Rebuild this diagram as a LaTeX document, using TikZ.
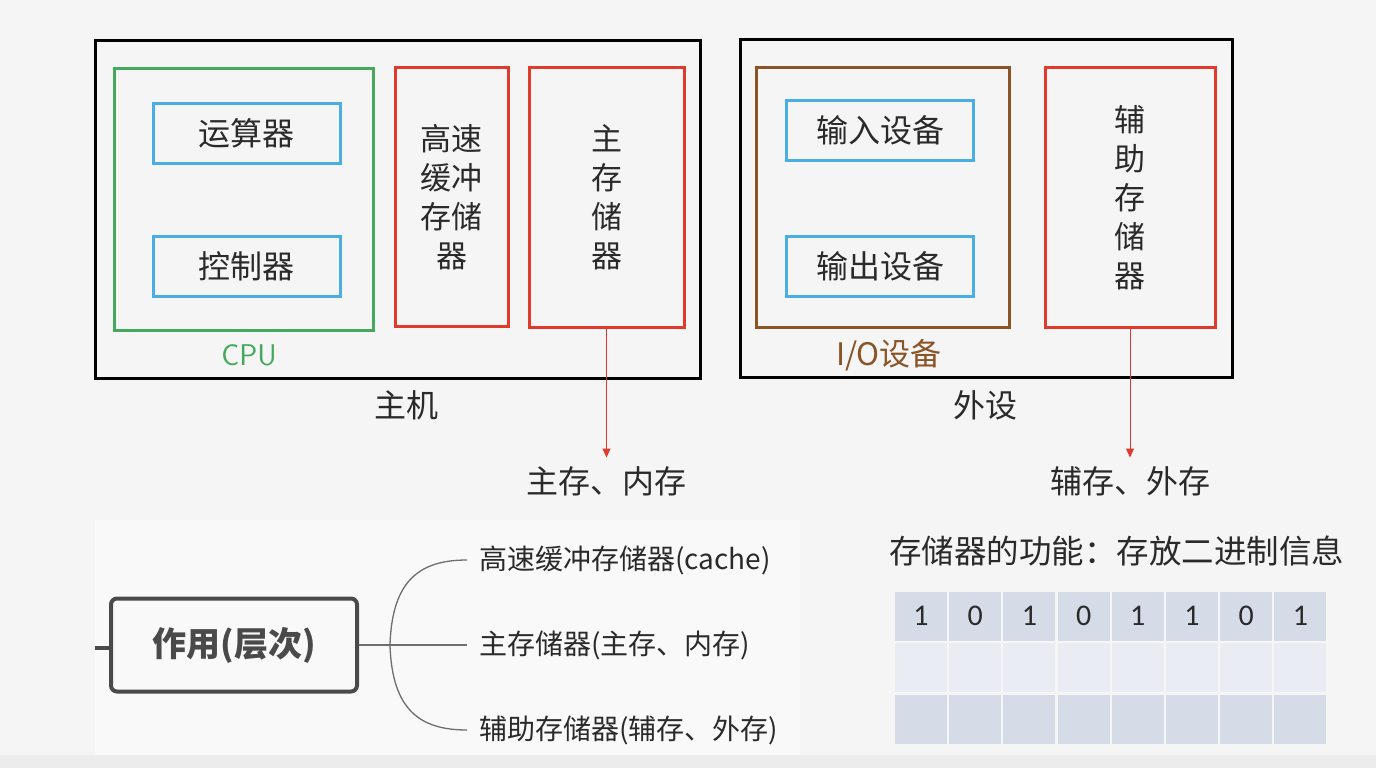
\documentclass[tikz,border=0pt]{standalone}
\usepackage{fontspec}
\setmainfont{Noto Sans CJK SC}
\newfontfamily\digitfont{Carlito}
\usetikzlibrary{arrows.meta}
\definecolor{bgc}{HTML}{F5F5F5}
\definecolor{cpugreen}{HTML}{45A85C}
\definecolor{boxblue}{HTML}{4AAEE6}
\definecolor{boxred}{HTML}{E03A2C}
\definecolor{iobrown}{HTML}{8A5427}
\definecolor{txt}{HTML}{2A2A2A}
\definecolor{mapgray}{HTML}{4A4A4A}
\definecolor{cellA}{HTML}{D5DBE7}
\definecolor{cellB}{HTML}{E9ECF2}
\tikzset{
  frame/.style={draw, line width=3pt, inner sep=0pt},
  bluebox/.style={draw=boxblue, line width=3pt, inner sep=0pt, minimum width=187pt, minimum height=60pt, font=\fontsize{32}{38}\selectfont, text=txt},
  redbox/.style={draw=boxred, line width=3pt, inner sep=0pt, minimum height=259pt, align=center, font=\fontsize{31}{39}\selectfont, text=txt},
  lbl/.style={font=\fontsize{32}{38}\selectfont, text=txt, inner sep=0pt},
  redarrow/.style={draw=boxred, line width=1pt, -{Triangle[length=9pt,width=8pt]}},
  branchtxt/.style={font=\fontsize{28}{32}\selectfont, text=txt, inner sep=0pt, anchor=west},
  branchline/.style={draw=mapgray!80, line width=1.3pt},
  cell/.style={minimum width=52pt, minimum height=49pt, inner sep=0pt, font=\digitfont\fontsize{30}{36}\selectfont, text=txt}
}
\begin{document}
\begin{tikzpicture}[x=1pt,y=-1pt]
\useasboundingbox (0,0) rectangle (1376,768);
\fill[bgc] (0,0) rectangle (1376,768);
\fill[white!40!bgc] (95,520) rectangle (800,755);
\fill[gray!15] (0,755) rectangle (1376,768);

% host
\node[frame, minimum width=605pt, minimum height=337pt] (host) at (397.5,209.5) {};
\node[frame, draw=cpugreen, minimum width=259pt, minimum height=261pt] (cpu) at (243.5,199.5) {};
\node[bluebox] (alu) at (246.5,133.5) {运算器};
\node[bluebox] (ctl) at (246.5,266) {控制器};
\node[font=\sffamily\fontsize{30}{34}\selectfont, text=cpugreen, inner sep=0pt] (cpulbl) at (249,355) {CPU};
\node[redbox, minimum width=113pt] (cache) at (451.5,197) {高速\\缓冲\\存储\\器};
\node[redbox, minimum width=155pt] (mem) at (606.5,197.5) {主\\存\\储\\器};
\node[lbl] (hostlbl) at (406,405) {主机};

% peripherals
\node[frame, minimum width=492pt, minimum height=337pt] (peri) at (986,208.5) {};
\node[frame, draw=iobrown, minimum width=253pt, minimum height=259pt] (io) at (882.5,197.5) {};
\node[bluebox] (in) at (880,130.5) {输入设备};
\node[bluebox] (out) at (880,266.5) {输出设备};
\node[font=\fontsize{31}{36}\selectfont, text=iobrown, inner sep=0pt] (iolbl) at (889,355) {I/O设备};
\node[redbox, minimum width=170pt] (aux) at (1130,197.5) {辅\\助\\存\\储\\器};
\node[lbl] (perilbl) at (985,405) {外设};

% arrows
\node[lbl] (mainlbl) at (606,481) {主存、内存};
\node[lbl] (auxlbl) at (1130,481) {辅存、外存};
\draw[redarrow] (mem.south) -- ++(0,129) coordinate (memend);
\draw[redarrow] (aux.south) -- ++(0,129) coordinate (auxend);

% mind map
\node[draw=mapgray, line width=4pt, rounded corners=6pt, minimum width=246pt, minimum height=93pt, font=\bfseries\fontsize{34}{40}\selectfont, text=mapgray] (root) at (234,645) {作用(层次)};
\coordinate (stub) at (95,648);
\draw[draw=mapgray, line width=4pt] (stub) -- (root.west |- stub);
\node[branchtxt] (b1) at (479,560) {高速缓冲存储器(cache)};
\node[branchtxt] (b2) at (479,645) {主存储器(主存、内存)};
\node[branchtxt] (b3) at (479,730) {辅助存储器(辅存、外存)};
\coordinate (fork) at (390,645);
\draw[branchline] (root.east) -- ([xshift=-12pt]b2.west);
\draw[branchline] (fork) .. controls (392,580) and (420,560) .. ([xshift=-12pt]b1.west);
\draw[branchline] (fork) .. controls (392,710) and (420,730) .. ([xshift=-12pt]b3.west);

% storage table
\node[font=\fontsize{32.5}{38}\selectfont, text=txt, inner sep=0pt, anchor=west] (title) at (889,551) {存储器的功能：存放二进制信息};
\foreach \b [count=\i] in {1,0,1,0,1,1,0,1} {
  \node[cell, fill=cellA] (r1c\i) at ({895+26+(\i-1)*54.2},616) {\b};
  \node[cell, fill=cellB] (r2c\i) at ({895+26+(\i-1)*54.2},667) {};
  \node[cell, fill=cellA] (r3c\i) at ({895+26+(\i-1)*54.2},719) {};
}
\end{tikzpicture}
\end{document}
